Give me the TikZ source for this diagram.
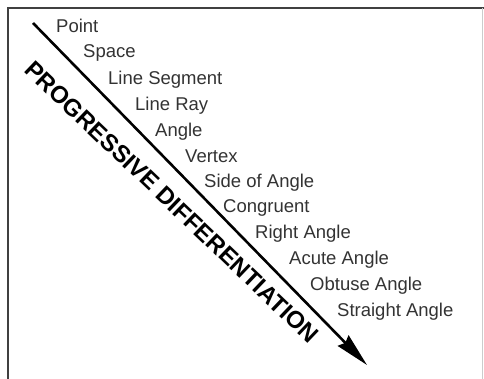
\documentclass[tikz,border=0pt]{standalone}
\usepackage{fontspec}
\setmainfont{Liberation Sans}
\usetikzlibrary{arrows.meta}
\definecolor{ink}{rgb}{0.2,0.2,0.2}
\tikzset{
    x=1pt, y=-1pt, % pixel grid of the picture
    lbl/.style={anchor=base west, inner sep=0pt, text=ink, font=\fontsize{18.5}{20}\selectfont}, % the terms
    big/.style={inner sep=0pt, rotate=-43.7, font=\fontsize{24}{26}\selectfont\bfseries}, % rotated title
    frame/.style={draw=black!75, line width=2pt},
}

\begin{document}
\begin{tikzpicture}
  \useasboundingbox (0,0) rectangle (484,379);
  \fill[white] (0,0) rectangle (484,379);
  \draw[frame] (8,379) -- (8,8) -- (484,8);
  \draw[black!20, line width=1pt] (482,8) -- (482,379);

  \node[lbl] (l1) at (56,33) {Point};
  \node[lbl] (l2) at (83,58) {Space};
  \node[lbl] (l3) at (108,85) {Line Segment};
  \node[lbl] (l4) at (135,111) {Line Ray};
  \node[lbl] (l5) at (155,137) {Angle};
  \node[lbl] (l6) at (185,163) {Vertex};
  \node[lbl] (l7) at (204,188) {Side of Angle};
  \node[lbl] (l8) at (223,213) {Congruent};
  \node[lbl] (l9) at (255,239) {Right Angle};
  \node[lbl] (l10) at (289,264) {Acute Angle};
  \node[lbl] (l11) at (310,290) {Obtuse Angle};
  \node[lbl] (l12) at (337,316) {Straight Angle};

  \coordinate (start) at (33,23);
  \coordinate (tip) at (367,365);
  \draw[line width=2.6pt, -{Stealth[length=34pt,width=15pt,inset=3pt]}] (start) -- (tip);

  \node[big] (title) at (172,202) {PROGRESSIVE DIFFERENTIATION};
\end{tikzpicture}
\end{document}
